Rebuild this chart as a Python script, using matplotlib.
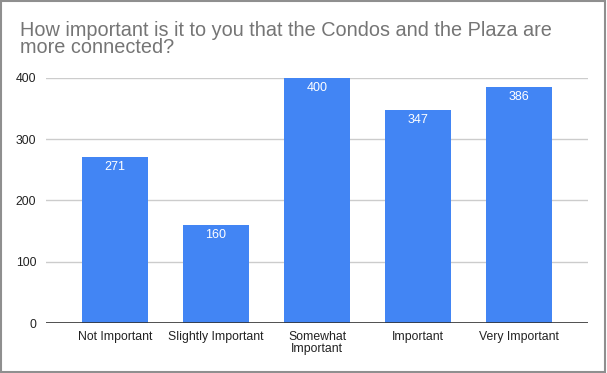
import matplotlib.pyplot as plt
from matplotlib.patches import Rectangle

# Data
categories = ['Not Important', 'Slightly Important', 'Somewhat\nImportant', 'Important', 'Very Important']
counts = [271, 160, 400, 347, 386]
y_ticks = [0, 100, 200, 300, 400]

plt.rcParams['font.family'] = ['Liberation Sans', 'DejaVu Sans']

fig = plt.figure(figsize=(6.07, 3.73), dpi=100)
ax = fig.add_axes([0.0758, 0.134, 0.893, 0.657])

x = list(range(len(categories)))
bars = ax.bar(x, counts, width=0.65, color='#4285F4', zorder=3)

# value labels inside the bars
for xi, v in zip(x, counts):
    ax.annotate(str(v), (xi, v), xytext=(0, -4), textcoords='offset pixels',
                ha='center', va='top', color='white', fontsize=9)

ax.set_xlim(-0.683, 4.683)
ax.set_ylim(0, 400)
ax.set_yticks(y_ticks)
ax.set_xticks(x)
ax.set_xticklabels(categories, fontsize=8.8, color='#222222', linespacing=1.0)
ax.tick_params(axis='y', labelsize=8.8, labelcolor='#222222', length=0, pad=7)
ax.tick_params(axis='x', length=0, pad=6)
ax.grid(axis='y', color='#cccccc', linewidth=1, zorder=0)
ax.axhline(0, color='#333333', linewidth=1.2, zorder=4)
for s in ax.spines.values():
    s.set_visible(False)

fig.text(0.033, 0.945, 'How important is it to you that the Condos and the Plaza are\nmore connected?',
         ha='left', va='top', fontsize=14.3, color='#757575', linespacing=0.92)

# grey frame around the chart
fig.patches.append(Rectangle((0.001, 0.002), 0.996, 0.995, transform=fig.transFigure,
                             fill=False, edgecolor='#8f8f8f', linewidth=1.5))

fig.savefig('out.png', dpi=100)
